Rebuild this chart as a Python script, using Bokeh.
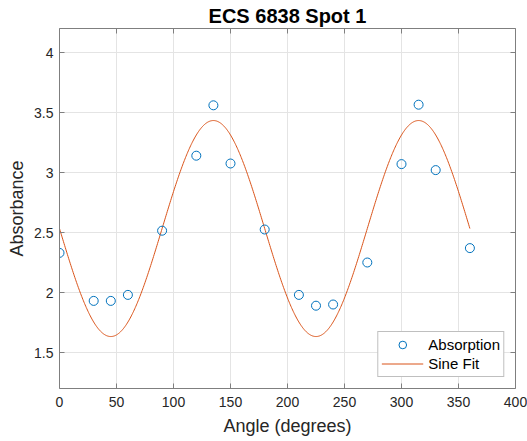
import numpy as np
from bokeh.plotting import figure
from bokeh.models import Range1d, FixedTicker, LinearAxis, Legend, LegendItem
from bokeh.embed import file_html
from bokeh.resources import INLINE

# ---- data ----
angles = [0, 30, 45, 60, 90, 120, 135, 150, 180, 210, 225, 240, 270, 300, 315, 330, 360]
absorbance = [2.33, 1.93, 1.93, 1.98, 2.515, 3.14, 3.56, 3.075, 2.525,
              1.98, 1.89, 1.90, 2.25, 3.07, 3.565, 3.02, 2.37]

# sine-fit parameters
fit_offset = 2.533
fit_amplitude = 0.90
fit_period = 180.0
fit_peak_angle = 135.0
fit_start, fit_end = 0, 360

x_ticks = [0, 50, 100, 150, 200, 250, 300, 350, 400]
y_ticks = [1.5, 2.0, 2.5, 3.0, 3.5, 4.0]
y_tick_labels = ["1.5", "2", "2.5", "3", "3.5", "4"]

fit_x = np.linspace(fit_start, fit_end, 721)
fit_y = fit_offset + fit_amplitude * np.cos(2 * np.pi * (fit_x - fit_peak_angle) / fit_period)

FONT = "Liberation Sans"
TXT = "#262626"
AX = "#7f7f7f"

p = figure(width=527, height=441, output_backend="svg", toolbar_location=None,
           x_range=Range1d(0, 400), y_range=Range1d(1.2, 4.2),
           min_border_left=59, min_border_right=12, min_border_top=27, min_border_bottom=53,
           title="ECS 6838 Spot 1")
p.background_fill_color = "white"
p.border_fill_color = "white"
p.outline_line_color = None

p.title.align = "center"
p.title.text_font = FONT
p.title.text_font_size = "20px"
p.title.text_font_style = "bold"
p.title.text_color = "black"
p.title.standoff = 4

ln = p.line(fit_x, fit_y, line_color="#D95319", line_width=1)
sc = p.scatter(angles, absorbance, marker="circle", size=9, fill_color=None,
               line_color="#0072BD", line_width=1)

def style_axis(ax, show_labels):
    ax.axis_line_color = AX
    ax.axis_line_width = 1
    ax.major_tick_line_color = AX
    ax.major_tick_in = 5
    ax.major_tick_out = 0
    ax.minor_tick_line_color = None
    ax.major_label_text_font = FONT
    ax.major_label_text_color = TXT
    ax.axis_label_text_font = FONT
    ax.axis_label_text_font_style = "normal"
    ax.axis_label_text_color = TXT
    ax.axis_label_text_font_size = "18px"
    if show_labels:
        ax.major_label_text_font_size = "14px"
    else:
        # box edge with ticks only: labels are not drawn at all
        ax.major_label_text_color = None
        ax.major_label_text_font_size = "1px"
        ax.major_label_standoff = 0

xax = p.xaxis[0]
yax = p.yaxis[0]
xax.ticker = FixedTicker(ticks=x_ticks)
yax.ticker = FixedTicker(ticks=y_ticks)
yax.major_label_overrides = {t: s for t, s in zip(y_ticks, y_tick_labels)}
style_axis(xax, True)
style_axis(yax, True)
xax.axis_label = "Angle (degrees)"
yax.axis_label = "Absorbance"
xax.major_label_standoff = 8
yax.major_label_standoff = 6
xax.axis_label_standoff = 6
yax.axis_label_standoff = 4

top = LinearAxis(ticker=FixedTicker(ticks=x_ticks))
right = LinearAxis(ticker=FixedTicker(ticks=y_ticks))
style_axis(top, False)
style_axis(right, False)
p.add_layout(top, "above")
p.add_layout(right, "right")

p.xgrid.ticker = FixedTicker(ticks=x_ticks)
p.ygrid.ticker = FixedTicker(ticks=y_ticks)
p.grid.grid_line_color = "#e4e4e4"
p.grid.grid_line_width = 1

legend = Legend(items=[LegendItem(label="Absorption", renderers=[sc]),
                       LegendItem(label="Sine Fit", renderers=[ln])],
                location="bottom_right")
legend.margin = 11
legend.padding = 3
legend.spacing = 0
legend.label_height = 19
legend.glyph_height = 19
legend.glyph_width = 42
legend.label_standoff = 5
legend.label_text_font = FONT
legend.label_text_font_size = "15px"
legend.label_text_color = "black"
legend.border_line_color = "#7f7f7f"
legend.border_line_width = 1
legend.background_fill_color = "white"
legend.background_fill_alpha = 1
p.add_layout(legend)

open("out.html", "w").write(file_html(p, INLINE))
